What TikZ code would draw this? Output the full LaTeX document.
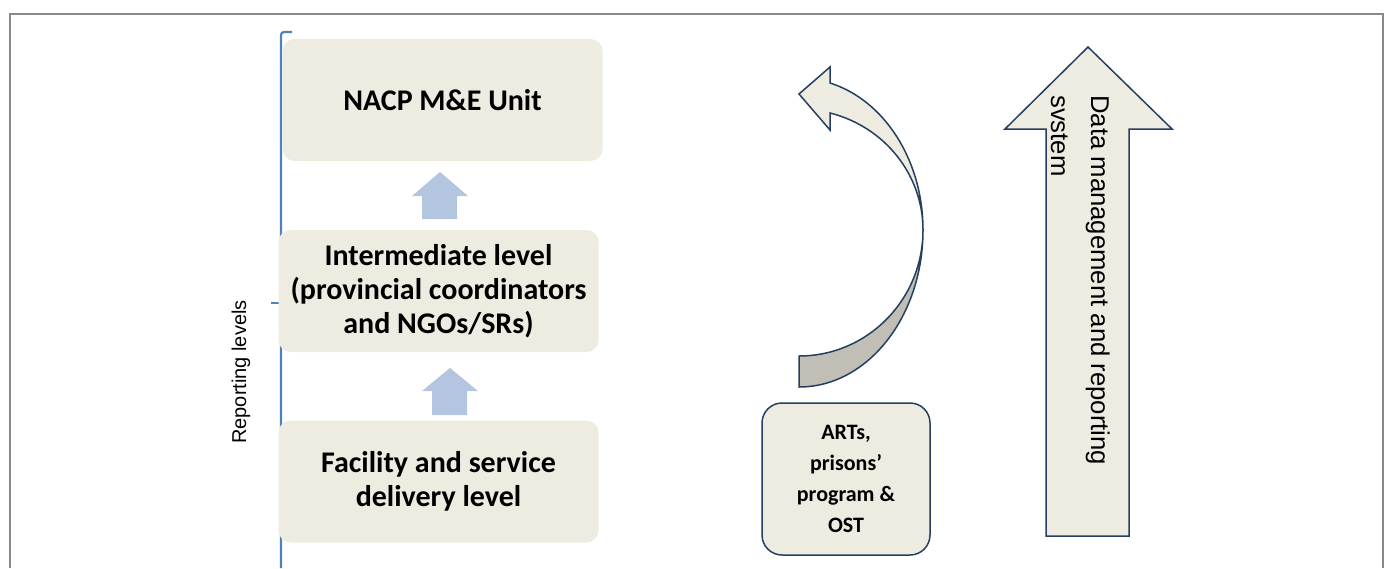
\documentclass[tikz,border=0pt]{standalone}
\usepackage{fontspec}
\setmainfont{Carlito}
\newfontfamily\arialfont{Liberation Sans}
\definecolor{boxfill}{HTML}{EEECE1}
\definecolor{backfill}{HTML}{C1BEB5}
\definecolor{navy}{HTML}{243F60}
\definecolor{bracketblue}{HTML}{4F81BD}
\definecolor{smallblue}{HTML}{B4C5DF}
\definecolor{framegray}{HTML}{8A8A8A}
\begin{document}
\begin{tikzpicture}[x=1pt,y=-1pt,
  levelbox/.style={rounded corners=12pt, fill=boxfill, draw=none, minimum width=320pt,
    minimum height=122pt, inner sep=0pt, align=center,
    font=\bfseries\fontsize{30}{34}\selectfont},
  smallarrow/.style={fill=smallblue},
  bandline/.style={draw=navy, line width=1.5pt, line join=miter},
  sidebox/.style={draw=navy, line width=1.5pt, fill=boxfill, rounded corners=20pt,
    minimum width=168pt, minimum height=152pt, align=center, inner sep=0pt,
    font=\bfseries\fontsize{22}{31}\selectfont},
  ]
\useasboundingbox (0,0) rectangle (1389,568);
% frame
\draw[framegray, line width=1.5pt] (10,568) -- (10,14) -- (1383,14) -- (1383,568);
% bracket
\draw[bracketblue, line width=2.2pt, rounded corners=3pt] (292,32) -- (281,32) -- (281,568);
\draw[bracketblue, line width=2.2pt] (271,303) -- (281,303);
\node[rotate=90, font=\arialfont\fontsize{20}{24}\selectfont] (rl) at (241,372) {Reporting levels};
% level boxes
\node[levelbox] (nacp) at (442.5,100) {NACP M\&E Unit};
\node[levelbox] (inter) at (438.5,291) {Intermediate level\\(provincial coordinators\\and NGOs/SRs)};
\node[levelbox] (fac) at (438.5,481.5) {Facility and service\\delivery level};
% small up arrows
\fill[smallarrow] (422,219) -- (422,196) -- (412,196) -- (440,172) -- (468,196) -- (457,196) -- (457,219) -- cycle;
\fill[smallarrow] (432,415) -- (432,391) -- (422,391) -- (450,368) -- (478,391) -- (467,391) -- (467,415) -- cycle;
% curved arrow: back band
\filldraw[bandline, fill=backfill] (923,230) .. controls (923,316.7) and (867.5,387) .. (799,387)
  -- (799,356) .. controls (867.5,356) and (923,299.6) .. (923,230) -- cycle;
% curved arrow: front band with head
\filldraw[bandline, fill=boxfill] (830,83) .. controls (884.7,100.3) and (923,160.7) .. (923,230)
  .. controls (923,174.9) and (884.7,126.8) .. (830,113)
  -- (830,130) -- (799,94) -- (830,67) -- cycle;
% side box
\node[sidebox] (arts) at (846,479) {ARTs,\\prisons’\\program \&\\OST};
% big up arrow
\filldraw[bandline, fill=boxfill] (1046,536) -- (1046,129) -- (1005,129) -- (1088,47) -- (1172,129) -- (1129,129) -- (1129,536) -- cycle;
\node[rotate=-90, anchor=north west, inner sep=0pt, align=left,
  font=\arialfont\fontsize{25.7}{40}\selectfont] (dm) at (1110,95) {Data management and reporting\\svstem};
\end{tikzpicture}
\end{document}
